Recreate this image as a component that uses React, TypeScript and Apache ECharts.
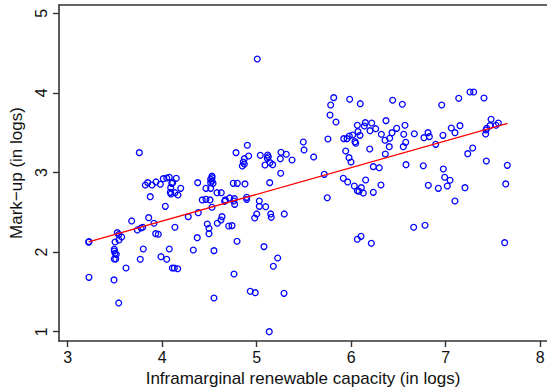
import React, { useEffect, useRef } from "react";
import * as echarts from "echarts";

// Inframarginal renewable capacity (in logs)
const capacity = [
  5.006, 3.758, 3.821, 3.847, 3.892, 3.934, 3.98, 4.012, 4.048, 4.075,
  4.149, 4.101, 4.111, 4.09, 4.086, 4.093, 4.135, 4.167, 4.196, 3.874,
  4.033, 3.677, 3.857, 3.913, 3.737, 3.776, 3.794, 3.931, 3.959, 4.135,
  3.525, 3.54, 3.571, 3.543, 3.501, 3.225, 3.222, 3.493, 3.493, 3.501,
  3.514, 3.493, 3.508, 3.8, 4.075, 3.987, 4.048, 3.768, 3.617, 4.107,
  4.128, 4.164, 3.225, 3.49, 3.54, 4.901, 4.781, 4.915, 4.869, 4.858,
  4.869, 4.848, 5.038, 5.116, 5.123, 5.112, 5.141, 5.169, 5.088, 5.257,
  5.313, 5.25, 5.374, 5.493, 5.501, 5.254, 5.138, 4.376, 4.527, 4.527,
  4.513, 4.527, 4.513, 4.538, 4.463, 4.513, 4.752, 4.795, 4.876, 4.58,
  4.625, 4.424, 4.463, 4.506, 4.668, 4.661, 4.714, 4.763, 4.757, 4.767,
  4.894, 4.894, 5.028, 5.028, 5.095, 4.527, 4.382, 4.276, 4.633, 4.622,
  5.0, 4.979, 5.148, 5.154, 5.292, 4.477, 4.495, 4.495, 4.583, 4.704,
  4.739, 4.371, 4.792, 5.077, 4.329, 4.548, 5.222, 5.176, 4.76, 4.548,
  4.932, 4.985, 5.289, 5.133, 5.747, 6.033, 6.107, 6.065, 6.083, 6.128,
  6.234, 6.315, 6.661, 6.781, 6.104, 6.065, 6.213, 6.816, 6.922, 7.017,
  7.204, 7.098, 7.624, 7.635, 5.815, 5.984, 6.096, 5.783, 5.776, 5.839,
  6.439, 6.541, 6.368, 6.065, 6.149, 6.139, 6.217, 6.199, 6.259, 6.072,
  6.093, 6.016, 5.98, 5.956, 5.921, 6.04, 6.048, 6.319, 6.358, 6.407,
  6.432, 6.481, 6.569, 6.556, 6.577, 6.551, 6.403, 6.668, 6.77, 6.361,
  5.603, 5.754, 5.942, 5.977, 5.998, 6.196, 5.715, 6.234, 6.297, 6.58,
  6.763, 5.916, 5.963, 6.153, 7.257, 7.296, 7.138, 7.405, 6.958, 6.813,
  6.827, 7.059, 7.098, 7.151, 6.971, 6.894, 7.48, 7.434, 7.469, 7.426,
  7.423, 7.532, 7.557, 7.286, 7.233, 7.43, 7.652, 6.975, 6.989, 7.046,
];

// Mark-up (in logs)
const markup = [
  4.426, 3.249, 2.843, 2.872, 2.843, 2.881, 2.852, 2.922, 2.931, 2.94,
  2.927, 2.864, 2.872, 2.809, 2.751, 2.73, 2.746, 2.717, 2.801, 2.696,
  2.575, 2.391, 2.432, 2.362, 2.278, 2.303, 2.312, 2.231, 2.224, 2.312,
  2.244, 2.219, 2.19, 2.152, 2.127, 2.131, 2.126, 2.035, 2.014, 1.985,
  1.972, 1.913, 1.913, 2.039, 2.039, 1.942, 1.91, 1.91, 1.8, 1.8,
  1.8, 1.791, 1.683, 1.65, 1.361, 3.342, 3.249, 3.207, 3.173, 3.132,
  3.107, 3.082, 3.216, 3.22, 3.198, 3.178, 3.123, 3.098, 3.094, 3.254,
  3.229, 3.173, 3.157, 3.383, 3.283, 2.99, 2.872, 2.872, 2.956, 2.935,
  2.915, 2.893, 2.872, 2.864, 2.801, 2.801, 2.864, 2.864, 2.856, 2.746,
  2.746, 2.655, 2.663, 2.655, 2.655, 2.638, 2.68, 2.671, 2.642, 2.6,
  2.688, 2.663, 2.642, 2.575, 2.57, 2.563, 2.495, 2.445, 2.445, 2.403,
  2.479, 2.428, 2.479, 2.437, 2.479, 2.353, 2.299, 2.231, 2.362, 2.328,
  2.332, 2.181, 2.136, 2.069, 2.026, 2.018, 1.926, 1.822, 1.725, 1.423,
  1.508, 1.49, 1.482, 1.0, 2.683, 2.83, 2.809, 2.771, 2.764, 2.742,
  2.751, 2.843, 2.312, 2.337, 2.198, 2.161, 2.111, 2.839, 2.801, 2.83,
  2.809, 2.642, 2.118, 2.856, 3.94, 3.92, 3.864, 3.848, 3.722, 3.634,
  3.907, 3.857, 3.651, 3.593, 3.626, 3.584, 3.622, 3.525, 3.55, 3.513,
  3.467, 3.471, 3.458, 3.425, 3.425, 3.387, 3.367, 3.48, 3.405, 3.43,
  3.5, 3.555, 3.593, 3.48, 3.379, 3.324, 3.324, 3.487, 3.437, 3.232,
  3.195, 3.421, 3.27, 3.186, 3.132, 3.295, 2.977, 3.073, 3.06, 3.098,
  3.085, 2.927, 2.881, 2.906, 4.011, 4.011, 3.932, 3.936, 3.848, 3.5,
  3.45, 3.559, 3.5, 3.588, 3.467, 3.354, 3.668, 3.555, 3.588, 3.534,
  3.484, 3.593, 3.622, 3.308, 3.236, 3.144, 3.09, 3.044, 2.94, 2.902,
];

// Fitted line end points
const fitCapacity = [3.222, 7.655];
const fitMarkup = [2.128, 3.618];

const xTicks = [3, 4, 5, 6, 7, 8];
const yTicks = [1, 2, 3, 4, 5];

const FONT = "'Liberation Sans', Arial, Helvetica, sans-serif";
const AXIS_COLOR = "#333333";

export default function App() {
  const ref = useRef<HTMLDivElement>(null);

  useEffect(() => {
    if (!ref.current) return;
    const chart = echarts.init(ref.current, undefined, { renderer: "svg" });

    const points = capacity.map((x, i) => [x, markup[i]]);
    const fit = fitCapacity.map((x, i) => [x, fitMarkup[i]]);

    chart.setOption({
      animation: false,
      backgroundColor: "#ffffff",
      grid: {
        left: 59,
        right: 0,
        top: 5,
        bottom: 48,
        containLabel: false,
        outerBoundsMode: "none",
      },
      xAxis: [
        {
          type: "value",
          min: 2.908,
          max: 8.072,
          name: "Inframarginal renewable capacity (in logs)",
          nameLocation: "middle",
          nameGap: 24,
          nameTextStyle: { fontFamily: FONT, fontSize: 17, color: "#111" },
          axisLine: { show: true, onZero: false, lineStyle: { color: AXIS_COLOR, width: 1.6 } },
          axisTick: {
            show: true,
            length: 6,
            customValues: xTicks,
            lineStyle: { color: AXIS_COLOR, width: 1.4 },
          },
          axisLabel: {
            customValues: xTicks,
            margin: 8,
            fontFamily: FONT,
            fontSize: 16,
            color: "#111",
          },
          splitLine: { show: false },
        },
        {
          type: "value",
          position: "top",
          min: 2.908,
          max: 8.072,
          axisLine: { show: true, onZero: false, lineStyle: { color: AXIS_COLOR, width: 1.6 } },
          axisTick: { show: false },
          axisLabel: { show: false },
          splitLine: { show: false },
        },
      ],
      yAxis: {
        type: "value",
        min: 0.883,
        max: 5.104,
        name: "Mark\u2212up (in logs)",
        nameLocation: "middle",
        nameGap: 26,
        nameTextStyle: { fontFamily: FONT, fontSize: 17, color: "#111" },
        axisLine: { show: true, onZero: false, lineStyle: { color: AXIS_COLOR, width: 1.6 } },
        axisTick: {
          show: true,
          length: 6,
          customValues: yTicks,
          lineStyle: { color: AXIS_COLOR, width: 1.4 },
        },
        axisLabel: {
          customValues: yTicks,
          rotate: 90,
          margin: 10,
          fontFamily: FONT,
          fontSize: 16,
          color: "#111",
        },
        splitLine: { show: false },
      },
      series: [
        {
          type: "scatter",
          xAxisIndex: 0,
          data: points,
          symbol: "circle",
          symbolSize: 5.8,
          itemStyle: {
            color: "rgba(0,0,0,0)",
            borderColor: "#0000ff",
            borderWidth: 1.3,
            opacity: 1,
          },
          emphasis: { disabled: true },
          z: 3,
        },
        {
          type: "line",
          xAxisIndex: 0,
          data: fit,
          showSymbol: false,
          symbol: "none",
          lineStyle: { color: "#ff0000", width: 1.3 },
          emphasis: { disabled: true },
          z: 4,
        },
      ],
    });

    return () => chart.dispose();
  }, []);

  return (
    <div
      ref={ref}
      style={{ position: "fixed", left: 0, top: 0, width: 547, height: 389, background: "#fff" }}
    />
  );
}
